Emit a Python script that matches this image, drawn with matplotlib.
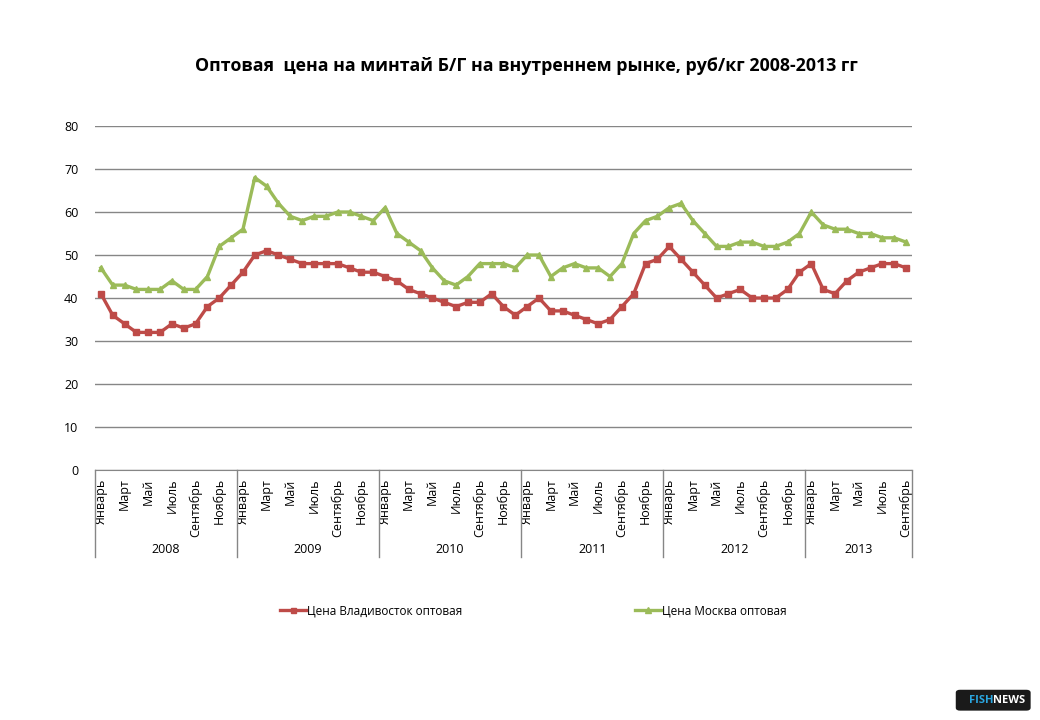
import matplotlib
matplotlib.use("Agg")
import matplotlib.pyplot as plt
from matplotlib.patches import FancyBboxPatch

plt.rcParams['font.family'] = ['Open Sans', 'DejaVu Sans']

# Monthly wholesale prices, rub/kg, Jan 2008 .. Sep 2013
vladivostok = [41, 36, 34, 32, 32, 32, 34, 33, 34, 38, 40, 43,
               46, 50, 51, 50, 49, 48, 48, 48, 48, 47, 46, 46,
               45, 44, 42, 41, 40, 39, 38, 39, 39, 41, 38, 36,
               38, 40, 37, 37, 36, 35, 34, 35, 38, 41, 48, 49,
               52, 49, 46, 43, 40, 41, 42, 40, 40, 40, 42, 46,
               48, 42, 41, 44, 46, 47, 48, 48, 47]
moscow = [47, 43, 43, 42, 42, 42, 44, 42, 42, 45, 52, 54,
          56, 68, 66, 62, 59, 58, 59, 59, 60, 60, 59, 58,
          61, 55, 53, 51, 47, 44, 43, 45, 48, 48, 48, 47,
          50, 50, 45, 47, 48, 47, 47, 45, 48, 55, 58, 59,
          61, 62, 58, 55, 52, 52, 53, 53, 52, 52, 53, 55,
          60, 57, 56, 56, 55, 55, 54, 54, 53]
months = ['Январь', 'Февраль', 'Март', 'Апрель', 'Май', 'Июнь',
          'Июль', 'Август', 'Сентябрь', 'Октябрь', 'Ноябрь', 'Декабрь']
years = ['2008', '2009', '2010', '2011', '2012', '2013']
yticks = [0, 10, 20, 30, 40, 50, 60, 70, 80]

n = len(moscow)
x = list(range(n))
month_labels = [months[i % 12] for i in x]

fig = plt.figure(figsize=(10.4, 7.2), dpi=100)
ax = fig.add_axes([0.0913, 0.3472, 0.7856, 0.4778])

red = '#BE4B48'
green = '#9BBB59'
ax.plot(x, vladivostok, color=red, lw=2.4, marker='s', ms=4.5,
        label='Цена Владивосток оптовая', zorder=3)
ax.plot(x, moscow, color=green, lw=2.4, marker='^', ms=5,
        label='Цена Москва оптовая', zorder=3)

ax.set_ylim(0, 80)
ax.set_yticks(yticks)
ax.set_xlim(-0.5, n - 0.5)
ax.grid(axis='y', color='#868686', lw=1)
ax.set_axisbelow(True)
for s in ['top', 'right', 'left']:
    ax.spines[s].set_visible(False)
ax.spines['bottom'].set_color('#868686')
ax.tick_params(axis='y', length=0, labelsize=9, pad=12)
ax.tick_params(axis='x', length=0, labelsize=9, pad=6)

ax.set_xticks(x[::2])
ax.set_xticklabels(month_labels[::2], rotation=90, va='top')

# year groups under the month labels
tr = ax.get_xaxis_transform()
for k in range(len(years) + 1):
    xb = min(k * 12, n) - 0.5
    ax.plot([xb, xb], [0, -0.253], transform=tr, color='#868686',
            lw=1, clip_on=False)
for k, yr in enumerate(years):
    end = min((k + 1) * 12, n)
    ax.text((k * 12 + end - 1) / 2, -0.232, yr, transform=tr,
            ha='center', va='center', fontsize=9)

fig.text(0.506, 0.908, 'Оптовая  цена на минтай Б/Г на внутреннем рынке, руб/кг 2008-2013 гг',
         ha='center', va='center', fontsize=12.8, fontweight='bold')

fig.legend(loc='center', bbox_to_anchor=(0.513, 0.152), ncol=2,
           frameon=False, fontsize=8.5, columnspacing=14.6, handlelength=2.2,
           handletextpad=0.1, markerscale=0.8)

# FISHNEWS badge
badge = FancyBboxPatch((0.921, 0.015), 0.068, 0.025,
                       boxstyle='round,pad=0.002,rounding_size=0.004',
                       transform=fig.transFigure, facecolor='#1a1a1a',
                       edgecolor='none')
fig.patches.append(badge)
fig.text(0.955, 0.0275, 'FISH', color='#2aa6e0', fontsize=8,
         fontweight='bold', ha='right', va='center')
fig.text(0.955, 0.0275, 'NEWS', color='white', fontsize=8,
         fontweight='bold', ha='left', va='center')

fig.savefig('out.png', dpi=100)
